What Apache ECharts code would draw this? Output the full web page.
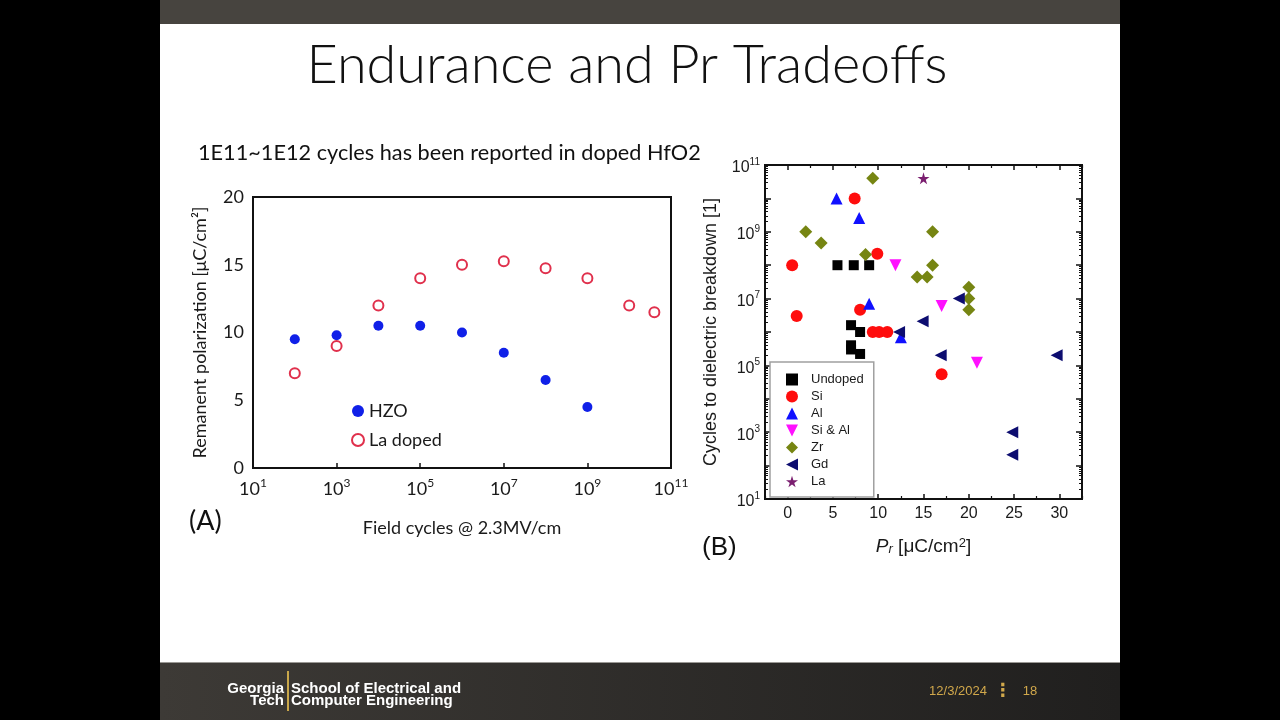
<!DOCTYPE html>
<html><head><meta charset="utf-8">
<script src="https://cdn.jsdelivr.net/npm/echarts@6/dist/echarts.min.js"></script>
<style>html,body{margin:0;padding:0;background:#000;}#c{width:1280px;height:720px;}</style>
</head><body><div id="c"></div>
<script>
// ---------- Chart A data ----------
const hzoCycles = [1e2, 1e3, 1e4, 1e5, 1e6, 1e7, 1e8, 1e9];
const hzoPr     = [9.5, 9.8, 10.5, 10.5, 10.0, 8.5, 6.5, 4.5];
const laCycles  = [1e2, 1e3, 1e4, 1e5, 1e6, 1e7, 1e8, 1e9, 1e10, 4e10];
const laPr      = [7.0, 9.0, 12.0, 14.0, 15.0, 15.25, 14.75, 14.0, 12.0, 11.5];
const aXLabelValues = [1e1, 1e3, 1e5, 1e7, 1e9, 1e11];
const aXTickValues  = [1e3, 1e5, 1e7, 1e9];

// ---------- Chart B data: [Pr, cycles] ----------
const undoped = [[5.5,1e8],[7.3,1e8],[9.0,1e8],[7.0,1.6e6],[8.0,1e6],[7.0,4e5],[7.0,3e5],[8.0,2.2e5]];
const si      = [[0.5,1e8],[1.0,3e6],[7.4,1e10],[9.9,2.2e8],[8.0,4.6e6],[9.4,1e6],[10.1,1e6],[11.0,1e6],[17.0,5.4e4]];
const al      = [[5.4,1e10],[7.9,2.6e9],[9.0,7e6],[12.5,7e5]];
const siAl    = [[11.9,1e8],[17.0,6e6],[20.9,1.2e5]];
const zr      = [[9.4,4e10],[2.0,1e9],[3.7,4.6e8],[8.6,2.1e8],[16.0,1e9],[16.0,1e8],[14.3,4.4e7],[15.4,4.4e7],[20.0,2.2e7],[20.0,1e7],[20.0,4.6e6]];
const gd      = [[18.9,1e7],[14.9,2.1e6],[12.3,1e6],[16.9,2e5],[29.7,2e5],[24.8,1e3],[24.8,2.1e2]];
const la      = [[15.0,4e10]];
const bXMajor = [0, 5, 10, 15, 20, 25, 30];
const bXMinor = [-2.5, 2.5, 7.5, 12.5, 17.5, 22.5, 27.5, 32.5];
const bYLabelValues = [1e1, 1e3, 1e5, 1e7, 1e9, 1e11];
const bYDecades = [1e1, 1e2, 1e3, 1e4, 1e5, 1e6, 1e7, 1e8, 1e9, 1e10, 1e11];
const bYMinorMult = [2, 3, 4, 5, 6, 7, 8, 9];

const bYMinor = [];
bYDecades.slice(0, -1).forEach(d => bYMinorMult.forEach(m => bYMinor.push(d * m)));

const supFmt = v => '{b|10}{s|' + Math.round(Math.log10(v)) + '}';
const FA = 'Lato, "Open Sans", sans-serif';
const FB = '"Liberation Sans", Arial, sans-serif';
const FN = '"Liberation Sans Narrow", "Liberation Sans", sans-serif';
const INK = '#1a1a1a';
const TRI_DOWN = 'path://M0,0 L10,0 L5,10 Z';
const TRI_LEFT = 'path://M10,0 L10,10 L0,5 Z';
const STAR = 'path://M50,0 L61,35 L98,35 L68,57 L79,91 L50,70 L21,91 L32,57 L2,35 L39,35 Z';

const chart = echarts.init(document.getElementById('c'));

function tickOnlyAxis(base, extra) {
  return Object.assign({}, base, {
    axisLine: {show: false, onZero: false}, splitLine: {show: false},
    axisLabel: {show: false}
  }, extra);
}

const bXBase = {type: 'value', gridIndex: 1, min: -2.5, max: 32.5};
const bYBase = {type: 'log', logBase: 10, gridIndex: 1, min: 1e1, max: 1e11};

chart.setOption({
  animation: false,
  backgroundColor: '#000',
  graphic: {elements: [
    {type: 'rect', z: -10, shape: {x: 160, y: 0, width: 960, height: 24}, style: {fill: '#47443f'}},
    {type: 'rect', z: -10, shape: {x: 160, y: 24, width: 960, height: 638}, style: {fill: '#ffffff'}},
    {type: 'rect', z: -10, shape: {x: 160, y: 662, width: 960, height: 58},
      style: {fill: new echarts.graphic.LinearGradient(0, 0, 1, 0, [{offset: 0, color: '#3d3a36'}, {offset: 1, color: '#201f1e'}])}},
    {type: 'rect', z: -9, shape: {x: 160, y: 662, width: 960, height: 1}, style: {fill: '#9a9894'}},
    {type: 'text', x: 627, y: 66, style: {text: 'Endurance and Pr Tradeoffs', font: '300 54px ' + FA, fill: '#111', align: 'center', verticalAlign: 'middle'}},
    {type: 'text', x: 198, y: 153, style: {text: '1E11~1E12 cycles has been reported in doped HfO2', font: '21.7px ' + FA, fill: '#111', align: 'left', verticalAlign: 'middle'}},
    {type: 'text', x: 189, y: 521, style: {text: '(A)', font: '27px ' + FA, fill: '#111', align: 'left', verticalAlign: 'middle'}},
    {type: 'text', x: 702, y: 548, style: {text: '(B)', font: '26px ' + FB, fill: '#111', align: 'left', verticalAlign: 'middle'}},
    // footer
    {type: 'text', x: 284, y: 689, style: {text: 'Georgia', font: 'bold 15px ' + FN, fill: '#fff', align: 'right', verticalAlign: 'middle'}},
    {type: 'text', x: 284, y: 701, style: {text: 'Tech', font: 'bold 15px ' + FN, fill: '#fff', align: 'right', verticalAlign: 'middle'}},
    {type: 'rect', shape: {x: 287, y: 671, width: 2, height: 40}, style: {fill: '#c9a74a'}},
    {type: 'text', x: 291, y: 689, style: {text: 'School of Electrical and', font: 'bold 15px ' + FN, fill: '#fff', align: 'left', verticalAlign: 'middle'}},
    {type: 'text', x: 291, y: 701, style: {text: 'Computer Engineering', font: 'bold 15px ' + FN, fill: '#fff', align: 'left', verticalAlign: 'middle'}},
    {type: 'text', x: 958, y: 691, style: {text: '12/3/2024', font: '13px ' + FN, fill: '#d1a84b', align: 'center', verticalAlign: 'middle'}},
    {type: 'text', x: 1003, y: 691, style: {text: '⋮', font: 'bold 18px "DejaVu Sans", sans-serif', fill: '#d1a84b', align: 'center', verticalAlign: 'middle'}},
    {type: 'text', x: 1030, y: 691, style: {text: '18', font: '13px ' + FN, fill: '#d1a84b', align: 'center', verticalAlign: 'middle'}}
  ]},
  grid: [
    {left: 253, top: 197, width: 418, height: 271, show: true, borderColor: '#111', borderWidth: 2, backgroundColor: 'transparent'},
    {left: 765, top: 165, width: 317, height: 334, show: true, borderColor: '#111', borderWidth: 2, backgroundColor: 'transparent'}
  ],
  legend: [
    {data: ['HZO', 'La doped'], orient: 'vertical', left: 351, top: 402, itemWidth: 12, itemHeight: 12, itemGap: 11,
      padding: 0, textStyle: {fontFamily: FA, fontSize: 18, color: INK}},
    {data: ['Undoped', 'Si', 'Al', 'Si & Al', 'Zr', 'Gd', 'La'], orient: 'vertical', left: 770, top: 362,
      itemWidth: 12, itemHeight: 12, itemGap: 4, padding: [11, 10, 9, 16], borderColor: '#a0a0a0', borderWidth: 1.5,
      backgroundColor: '#fff', textStyle: {fontFamily: FB, fontSize: 13, color: INK, padding: [0, 0, 0, 8]}}
  ],
  xAxis: [
    {type: 'log', logBase: 10, gridIndex: 0, min: 1e1, max: 1e11,
      axisLine: {show: false, onZero: false}, splitLine: {show: false},
      axisTick: {show: true, inside: true, length: 5, customValues: aXTickValues, lineStyle: {color: '#111', width: 1.5}},
      axisLabel: {customValues: aXLabelValues, formatter: supFmt, margin: 9,
        rich: {b: {fontFamily: FA, fontSize: 18, color: INK, lineHeight: 18, padding: [7, 0, 0, 0]},
               s: {fontFamily: FA, fontSize: 12, color: INK, lineHeight: 12, verticalAlign: 'top'}}},
      name: 'Field cycles @ 2.3MV/cm', nameLocation: 'middle', nameGap: 51,
      nameTextStyle: {fontFamily: FA, fontSize: 18, color: INK}},
    Object.assign({}, bXBase, {position: 'bottom',
      axisLine: {show: false, onZero: false}, splitLine: {show: false},
      axisTick: {show: true, inside: true, length: 5, customValues: bXMajor, lineStyle: {color: '#111', width: 1.5}},
      axisLabel: {customValues: bXMajor, margin: 7, fontFamily: FB, fontSize: 16, color: INK},
      name: '{i|P}{sub|r}{n| [μC/cm}{sup|2}{n|]}', nameLocation: 'middle', nameGap: 38,
      nameTextStyle: {rich: {
        i: {fontFamily: FB, fontSize: 19, fontStyle: 'italic', color: INK, lineHeight: 19, padding: [4, 0, 4, 0]},
        n: {fontFamily: FB, fontSize: 19, color: INK, lineHeight: 19, padding: [4, 0, 4, 0]},
        sub: {fontFamily: FB, fontSize: 13, fontStyle: 'italic', color: INK, lineHeight: 13, verticalAlign: 'bottom'},
        sup: {fontFamily: FB, fontSize: 13, color: INK, lineHeight: 13, verticalAlign: 'top'}}}}),
    tickOnlyAxis(bXBase, {position: 'bottom', axisTick: {show: true, inside: true, length: 3, customValues: bXMinor, lineStyle: {color: '#111', width: 1.2}}}),
    tickOnlyAxis(bXBase, {position: 'top', axisTick: {show: true, inside: true, length: 5, customValues: bXMajor, lineStyle: {color: '#111', width: 1.5}}}),
    tickOnlyAxis(bXBase, {position: 'top', axisTick: {show: true, inside: true, length: 3, customValues: bXMinor, lineStyle: {color: '#111', width: 1.2}}})
  ],
  yAxis: [
    {type: 'value', gridIndex: 0, min: 0, max: 20, interval: 5,
      axisLine: {show: false, onZero: false}, splitLine: {show: false}, axisTick: {show: false},
      axisLabel: {fontFamily: FA, fontSize: 18, color: INK, margin: 9},
      name: 'Remanent polarization [μC/cm²]', nameLocation: 'middle', nameGap: 44,
      nameTextStyle: {fontFamily: FA, fontSize: 18, color: INK}},
    Object.assign({}, bYBase, {position: 'left',
      axisLine: {show: false, onZero: false}, splitLine: {show: false},
      axisTick: {show: true, inside: true, length: 6, customValues: bYDecades, lineStyle: {color: '#111', width: 1.5}},
      axisLabel: {customValues: bYLabelValues, formatter: supFmt, margin: 5,
        rich: {b: {fontFamily: FB, fontSize: 16, color: INK, lineHeight: 16, padding: [6, 0, 0, 0]},
               s: {fontFamily: FB, fontSize: 10, color: INK, lineHeight: 10, verticalAlign: 'top'}}},
      name: 'Cycles to dielectric breakdown [1]', nameLocation: 'middle', nameGap: 45,
      nameTextStyle: {fontFamily: FB, fontSize: 18, color: INK}}),
    tickOnlyAxis(bYBase, {position: 'left', axisTick: {show: true, inside: true, length: 3, customValues: bYMinor, lineStyle: {color: '#111', width: 1}}}),
    tickOnlyAxis(bYBase, {position: 'right', axisTick: {show: true, inside: true, length: 6, customValues: bYDecades, lineStyle: {color: '#111', width: 1.5}}}),
    tickOnlyAxis(bYBase, {position: 'right', axisTick: {show: true, inside: true, length: 3, customValues: bYMinor, lineStyle: {color: '#111', width: 1}}})
  ],
  series: [
    {name: 'HZO', type: 'scatter', xAxisIndex: 0, yAxisIndex: 0, symbol: 'circle', symbolSize: 10,
      itemStyle: {color: '#1020e8', opacity: 1}, data: hzoCycles.map((c, i) => [c, hzoPr[i]])},
    {name: 'La doped', type: 'scatter', xAxisIndex: 0, yAxisIndex: 0, symbol: 'emptyCircle', symbolSize: 10,
      itemStyle: {color: '#e0304c', borderWidth: 1.5, opacity: 1}, data: laCycles.map((c, i) => [c, laPr[i]])},
    {name: 'Undoped', type: 'scatter', xAxisIndex: 1, yAxisIndex: 1, symbol: 'rect', symbolSize: 10, itemStyle: {color: '#000', opacity: 1}, data: undoped},
    {name: 'Si', type: 'scatter', xAxisIndex: 1, yAxisIndex: 1, symbol: 'circle', symbolSize: 12, itemStyle: {color: '#ff0d0d', opacity: 1}, data: si},
    {name: 'Al', type: 'scatter', xAxisIndex: 1, yAxisIndex: 1, symbol: 'triangle', symbolSize: 12, itemStyle: {color: '#1010ff', opacity: 1}, data: al},
    {name: 'Si & Al', type: 'scatter', xAxisIndex: 1, yAxisIndex: 1, symbol: TRI_DOWN, symbolSize: 12, itemStyle: {color: '#ff10ff', opacity: 1}, data: siAl},
    {name: 'Zr', type: 'scatter', xAxisIndex: 1, yAxisIndex: 1, symbol: 'diamond', symbolSize: 13, itemStyle: {color: '#768512', opacity: 1}, data: zr},
    {name: 'Gd', type: 'scatter', xAxisIndex: 1, yAxisIndex: 1, symbol: TRI_LEFT, symbolSize: 12, itemStyle: {color: '#0d0d70', opacity: 1}, data: gd},
    {name: 'La', type: 'scatter', xAxisIndex: 1, yAxisIndex: 1, symbol: STAR, symbolSize: 12, itemStyle: {color: '#7b1f70', opacity: 1}, data: la}
  ]
});
</script>
</body></html>
